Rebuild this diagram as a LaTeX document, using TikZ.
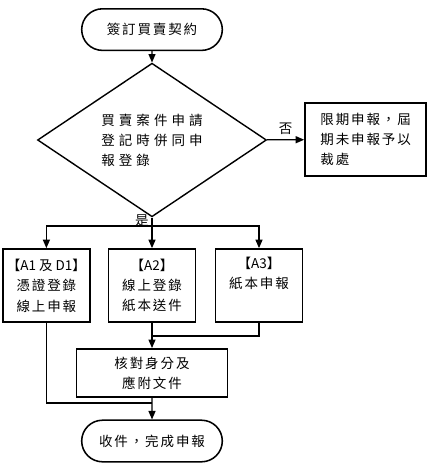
\documentclass[tikz,border=0pt]{standalone}
\usepackage{fontspec}
\setmainfont{Noto Sans CJK TC}[LetterSpace=14]
\newfontfamily\widecjk{Noto Sans CJK TC}[LetterSpace=30]
\newfontfamily\tightcjk{Noto Sans CJK TC}
\usetikzlibrary{shapes.geometric,shapes.misc,arrows.meta}

\tikzset{
  terminal/.style={draw,rounded rectangle,line width=1.1pt,minimum width=3.75cm,minimum height=1.04cm},
  choice/.style={draw,diamond,line width=1pt,minimum width=5.725cm,minimum height=3.225cm,
    inner sep=0pt,align=left,font={\widecjk\fontsize{9.6}{14.2}\selectfont}},
  stepbox/.style={draw,rectangle,line width=1.4pt,align=center,inner sep=2pt},
  casebox/.style={stepbox,minimum width=2.175cm,minimum height=1.825cm},
  >={Triangle[length=6pt,width=5pt]}
}

\begin{document}
\begin{tikzpicture}[font=\fontsize{9.6}{14.4}\selectfont, line width=0.8pt]
  \useasboundingbox (0,0) rectangle (10.675,-11.75);
  \node[terminal] (start) at (3.8,-0.74) {簽訂買賣契約};
  \node[choice] (ask) at (3.8,-3.5) {買賣案件申請\\登記時併同申\\報登錄};
  \node[stepbox,minimum width=3.025cm,minimum height=1.825cm,align=left] (late) at (9.14,-3.49)
    {限期申報，屆\\期未申報予以\\裁處};
  \node[casebox] (aone) at (1.16,-7.14) {{\tightcjk 【A1 及 D1】}\\憑證登錄\\線上申報};
  \node[casebox] (atwo) at (3.8,-7.14) {{\tightcjk 【A2】}\\線上登錄\\紙本送件};
  \node[casebox] (athree) at (6.475,-7.14) {{\tightcjk 【A3】}\\紙本申報\\\strut};
  \node[stepbox,minimum width=3.775cm,minimum height=1.2cm] (check) at (3.8,-9.325) {核對身分及\\應附文件};
  \node[terminal] (done) at (3.8,-11.025) {收件，完成申報};

  \coordinate (split) at (3.8,-5.65);
  \coordinate (join) at (3.8,-8.4);
  \coordinate (meet) at (3.8,-10.075);

  \draw[->] (start) -- (ask);
  \draw[->] (ask) -- node[above] (no) {否} (late);
  \draw (ask) -- node[left,pos=0.4,inner sep=2pt] (yes) {是} (split);
  \draw[->] (split) -| (aone);
  \draw[->] (split) -- (atwo);
  \draw[->] (split) -| (athree);
  \draw[->] (atwo) -- (check);
  \draw (athree) |- (join);
  \draw[->] (check) -- (done);
  \draw (aone) |- (meet);
\end{tikzpicture}
\end{document}
